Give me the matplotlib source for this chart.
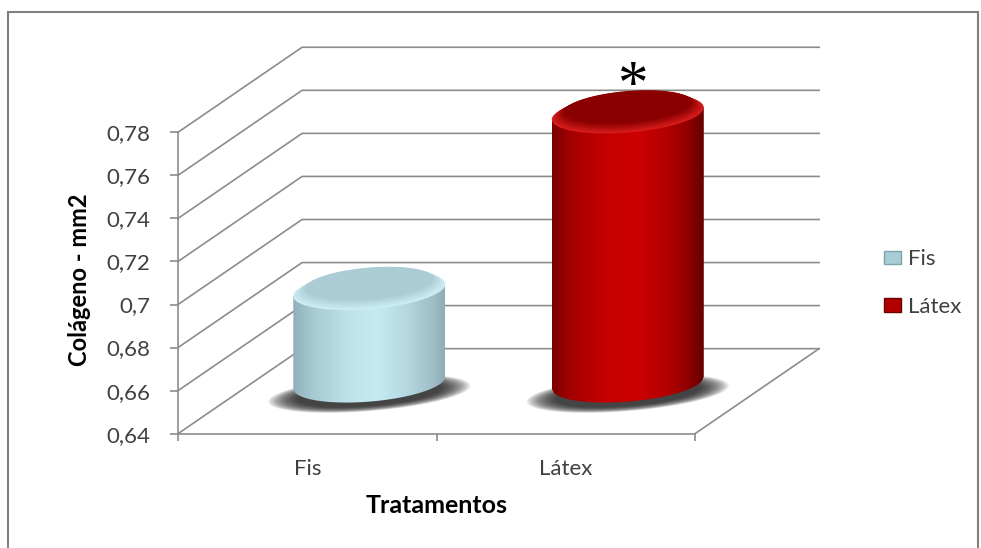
import numpy as np
import matplotlib.pyplot as plt
from matplotlib.patches import Rectangle, Patch, Polygon
from matplotlib.colors import to_rgb

categories = ["Fis", "Látex"]
values = [0.683, 0.765]
ticks = [0.64, 0.66, 0.68, 0.70, 0.72, 0.74, 0.76, 0.78]
tick_labels = ["0,64", "0,66", "0,68", "0,7", "0,72", "0,74", "0,76", "0,78"]

# side shading, left edge -> right edge of each cylinder
side_stops = [0.0, 0.12, 0.35, 0.55, 0.75, 0.9, 1.0]
side_fis = ["#8fb1bb", "#a6c8d1", "#bfe2ea", "#c6ebf3", "#b6d8e0", "#a2c2cb", "#90adb5"]
side_latex = ["#7a0000", "#a30000", "#c40000", "#cc0000", "#b50000", "#8e0000", "#640000"]
top_fis = ("#cdeef5", "#abccd4")      # rim, centre
top_latex = ("#d81c1c", "#8a0000")
legend_colors = ["#a9cdd6", "#b00000"]

GRID = "#8c8c8c"
INK = "#404040"
BASE = 0.64
DX, DY = 0.48, 0.0395           # depth of the 3-D box in data units
A, B = 0.294, 0.0088            # cylinder half-width, ellipse half-height
SHEAR = 0.0095                  # perspective tilt of the ellipses

plt.rcParams["font.family"] = ["Lato", "DejaVu Sans"]

fig = plt.figure(figsize=(9.81, 5.48), dpi=100)
ax = fig.add_axes([178 / 981, (548 - 433.7) / 548, 517 / 981, 301.4 / 548])
for s in ("top", "right"):
    ax.spines[s].set_visible(False)
for s in ("left", "bottom"):
    ax.spines[s].set_color(GRID)
    ax.spines[s].set_linewidth(1.2)

# back wall + floor
for v in ticks:
    ax.plot([-0.5, -0.5 + DX, 1.5 + DX], [v, v + DY, v + DY],
            color=GRID, lw=1.2, clip_on=False, zorder=1)
ax.plot([1.5, 1.5 + DX], [BASE, BASE + DY], color=GRID, lw=1.2,
        clip_on=False, zorder=1)


def shade(stops, colors, f):
    rgb = np.array([to_rgb(c) for c in colors])
    return np.stack([np.interp(f, stops, rgb[:, k]) for k in range(3)], axis=-1)


t = np.linspace(0, 2 * np.pi, 160)
for i, v in enumerate(values):
    cx = i + 0.5 * DX
    y0 = BASE + 0.6 * DY
    y1 = y0 + (v - BASE)
    side = side_fis if i == 0 else side_latex
    rim, centre = top_fis if i == 0 else top_latex

    # soft floor shadow
    for k in range(14):
        s = 1.0 - k * 0.022
        xs = 0.39 * s * np.cos(t)
        ax.fill(cx + xs, y0 - 0.0051 + 0.0081 * s * np.sin(t) + SHEAR * xs,
                color="#1a1a1a", alpha=0.11, lw=0, clip_on=False, zorder=2)

    # body: horizontal gradient clipped to the cylinder outline
    xb = np.linspace(-A, A, 80)
    bottom = y0 + SHEAR * xb - B * np.sqrt(np.clip(1 - (xb / A) ** 2, 0, 1))
    outline = np.vstack([np.column_stack([cx + xb, bottom]),
                         [[cx + A, y1 + SHEAR * A], [cx - A, y1 - SHEAR * A]]])
    body = Polygon(outline, closed=True, transform=ax.transData)
    grad = shade(side_stops, side, np.linspace(0, 1, 300))[None, :, :]
    im = ax.imshow(grad, extent=[cx - A, cx + A, y0 - 2 * B, y1 + 2 * B],
                   aspect="auto", interpolation="bilinear", zorder=3)
    im.set_clip_path(body)
    im.set_clip_box(fig.bbox)

    # top cap: bevelled rim to darker centre
    n = 10
    for k in range(n):
        f = k / (n - 1)
        s = 1.0 - 0.16 * f
        xe = A * s * np.cos(t)
        ye = y1 + B * 0.35 * f + B * s * np.sin(t) + SHEAR * xe
        ax.fill(cx + xe, ye, color=tuple(shade([0, 1], [rim, centre], f)),
                lw=0, clip_on=False, zorder=4)

    if i == 1:
        ax.annotate("*", xy=(cx, y1), xytext=(3, 19), textcoords="offset points",
                    ha="center", va="center", fontsize=44,
                    family="Liberation Serif", color="black", zorder=5,
                    annotation_clip=False)

ax.set_xlim(-0.5, 1.5)
ax.set_ylim(BASE, 0.78)
ax.set_yticks(ticks, tick_labels)
ax.tick_params(axis="y", length=6, width=1.2, color=GRID, pad=14,
               labelsize=16, labelcolor=INK)
ax.set_xticks([0, 1], categories)
ax.set_xticks([-0.5, 0.5, 1.5], minor=True)
ax.tick_params(axis="x", which="major", length=0, pad=18, labelsize=16,
               labelcolor=INK)
ax.tick_params(axis="x", which="minor", length=5, width=1.2, color=GRID)

ax.set_ylabel("Colágeno - mm2", fontsize=17, fontweight="bold", va="center")
ax.yaxis.set_label_coords(-0.19, 0.51)
ax.set_xlabel("Tratamentos", fontsize=18, fontweight="bold", va="center")
ax.xaxis.set_label_coords(0.5, -0.237)

handles = [Patch(facecolor=legend_colors[0], edgecolor="#7fa3ad"),
           Patch(facecolor=legend_colors[1], edgecolor="#700000")]
leg = fig.legend(handles, categories, loc="center left",
                 bbox_to_anchor=(884 / 981, 1 - 283 / 548), frameon=False,
                 fontsize=16, handlelength=0.75, handleheight=0.55,
                 handletextpad=0.35, labelspacing=1.25, borderpad=0,
                 borderaxespad=0)
for txt in leg.get_texts():
    txt.set_color(INK)

fig.add_artist(Rectangle((8 / 981, -0.1), 970 / 981, (548 - 12) / 548 + 0.1,
                         transform=fig.transFigure, fill=False,
                         edgecolor="#808080", lw=1.5))

fig.savefig("out.png", dpi=100)
